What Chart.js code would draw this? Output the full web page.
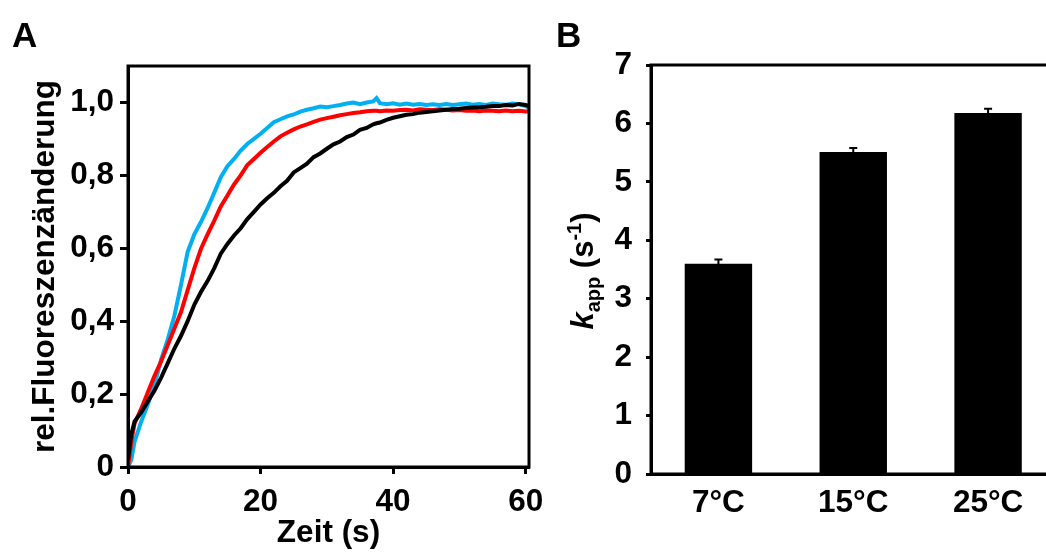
<!DOCTYPE html>
<html>
<head>
<meta charset="utf-8">
<script src="https://cdn.jsdelivr.net/npm/chart.js@4.4.1/dist/chart.umd.min.js"></script>
<style>
    body {
        margin: 0;
        width: 1046px;
        height: 553px;
        overflow: hidden;
        background: #fff;
        position: relative;
        font-family: 'Liberation Sans', Arial, sans-serif;
    }
    canvas {
        position: absolute;
        top: 0;
    }
    .panel-letter {
        position: absolute;
        top: 17px;
        font-size: 35px;
        font-weight: bold;
        line-height: 1;
        color: #000;
    }
    #rateTitle {
        position: absolute;
        left: 582px;
        top: 271px;
        transform: translate(-50%, -50%) rotate(-90deg);
        white-space: nowrap;
        font-size: 31px;
        font-weight: bold;
        line-height: 1;
        color: #000;
    }
    #rateTitle sub, #rateTitle sup {
        font-size: 20px;
        line-height: 0;
    }
</style>
</head>
<body>
<canvas id="fluorChart" width="559" height="553" style="left:0"></canvas>
<canvas id="rateChart" width="530" height="553" style="left:540px"></canvas>
<div class="panel-letter" style="left:12px">A</div>
<div class="panel-letter" style="left:556px">B</div>
<div id="rateTitle"><i>k</i><sub>app</sub> (s<sup>-1</sup>)</div>

<script>
// Panel A: fluorescence traces
const timeSec = [0, 0.5, 1, 2, 3, 4, 5, 6, 7, 8, 9, 10, 11, 12, 13, 14, 15, 16, 17, 18, 19, 20,
    21, 22, 23, 24, 25, 26, 27, 28, 29, 30, 31, 32, 33, 34, 35, 36, 37, 37.5, 38, 39, 40,
    41, 42, 43, 44, 45, 46, 47, 48, 49, 50, 51, 52, 53, 54, 55, 56, 57, 58, 59, 60, 60.5];

const fluor7C = [0.02, 0.09, 0.125, 0.15, 0.18, 0.21, 0.245, 0.285, 0.325, 0.36, 0.40, 0.445,
    0.48, 0.51, 0.545, 0.585, 0.612, 0.635, 0.655, 0.68, 0.70, 0.72, 0.737, 0.752, 0.77, 0.785,
    0.808, 0.82, 0.832, 0.85, 0.86, 0.873, 0.885, 0.893, 0.905, 0.912, 0.925, 0.93, 0.94, 0.943,
    0.945, 0.952, 0.958, 0.962, 0.966, 0.968, 0.972, 0.974, 0.976, 0.978, 0.98, 0.982, 0.983,
    0.985, 0.986, 0.987, 0.988, 0.99, 0.99, 0.993, 0.992, 0.996, 0.993, 0.99];

const fluor15C = [0.0, 0.07, 0.12, 0.16, 0.205, 0.25, 0.29, 0.335, 0.38, 0.425, 0.485, 0.545,
    0.598, 0.638, 0.675, 0.715, 0.745, 0.775, 0.80, 0.828, 0.845, 0.862, 0.878, 0.893, 0.907,
    0.917, 0.926, 0.934, 0.94, 0.947, 0.953, 0.957, 0.961, 0.965, 0.968, 0.971, 0.973, 0.976,
    0.977, 0.977, 0.976, 0.978, 0.977, 0.979, 0.98, 0.978, 0.981, 0.98, 0.979, 0.981, 0.98,
    0.978, 0.979, 0.977, 0.978, 0.976, 0.978, 0.977, 0.976, 0.978, 0.976, 0.977, 0.975, 0.976];

const fluor25C = [0.0, 0.02, 0.07, 0.125, 0.172, 0.225, 0.295, 0.35, 0.415, 0.50, 0.59, 0.638,
    0.672, 0.71, 0.752, 0.795, 0.825, 0.845, 0.868, 0.886, 0.90, 0.914, 0.93, 0.946, 0.954,
    0.962, 0.967, 0.975, 0.98, 0.984, 0.989, 0.987, 0.99, 0.993, 0.997, 1.0, 0.995, 1.0, 1.003,
    1.012, 0.998, 0.995, 0.998, 0.994, 0.997, 0.994, 0.996, 0.993, 0.995, 0.993, 0.996, 0.993,
    0.995, 0.997, 0.994, 0.996, 0.993, 0.997, 0.995, 0.994, 0.997, 0.995, 0.99, 0.986];

const timeTicks = [0, 20, 40, 60];
const fluorTicks = [0, 0.2, 0.4, 0.6, 0.8, 1.0];
const fluorTickLabels = ['0', '0,2', '0,4', '0,6', '0,8', '1,0'];

// Panel B: apparent rate constants
const tempLabels = ['7°C', '15°C', '25°C'];
const rateValues = [3.60, 5.51, 6.18];
const rateErrors = [0.07, 0.07, 0.07];
const rateTicks = [0, 1, 2, 3, 4, 5, 6, 7];

const FONT = 'Liberation Sans';
const boldFont = { family: FONT, size: 31.5, weight: 'bold' };

// Draw a closed frame around the plot area
const frameBox = {
    id: 'frameBox',
    afterDraw(chart) {
        const { ctx, chartArea } = chart;
        ctx.save();
        ctx.strokeStyle = '#000';
        ctx.lineWidth = 3;
        ctx.strokeRect(chartArea.left, chartArea.top,
            chartArea.right - chartArea.left, chartArea.bottom - chartArea.top);
        ctx.restore();
    }
};

// Error bars for the bar chart
const errorBars = {
    id: 'errorBars',
    afterDatasetsDraw(chart) {
        const { ctx } = chart;
        const yScale = chart.scales.y;
        const bars = chart.getDatasetMeta(0).data;
        ctx.save();
        ctx.strokeStyle = '#000';
        ctx.lineWidth = 2;
        bars.forEach((bar, i) => {
            const top = yScale.getPixelForValue(rateValues[i] + rateErrors[i]);
            const bottom = yScale.getPixelForValue(rateValues[i] - rateErrors[i]);
            ctx.beginPath();
            ctx.moveTo(bar.x, bottom);
            ctx.lineTo(bar.x, top);
            ctx.moveTo(bar.x - 4, top);
            ctx.lineTo(bar.x + 4, top);
            ctx.stroke();
        });
        ctx.restore();
    }
};

function toPoints(values) {
    return values.map((v, i) => ({ x: timeSec[i], y: v }));
}

function traceDataset(values, color) {
    return {
        data: toPoints(values),
        borderColor: color,
        borderWidth: 4,
        pointRadius: 0,
        tension: 0,
        fill: false
    };
}

// Fluorescence line chart
const fluorChart = new Chart(document.getElementById('fluorChart'), {
    type: 'line',
    data: {
        datasets: [
            traceDataset(fluor7C, '#000000'),
            traceDataset(fluor15C, '#ff0000'),
            traceDataset(fluor25C, '#00b0f0')
        ]
    },
    options: {
        responsive: false,
        animation: false,
        devicePixelRatio: 1,
        layout: { padding: { top: 66, right: 30, bottom: 0, left: 0 } },
        plugins: { legend: { display: false }, tooltip: { enabled: false } },
        scales: {
            x: {
                type: 'linear',
                min: 0,
                max: 60.5,
                afterBuildTicks: s => { s.ticks = timeTicks.map(v => ({ value: v })); },
                afterFit: s => { s.height = 86; },
                grid: { drawOnChartArea: false, tickLength: 7, tickWidth: 3, tickColor: '#000' },
                border: { color: '#000', width: 3 },
                ticks: { padding: 9, color: '#000', font: boldFont, maxRotation: 0, autoSkip: false },
                title: { display: true, text: 'Zeit (s)', color: '#000', font: boldFont,
                    padding: { top: 0, bottom: 1 } }
            },
            y: {
                min: 0,
                max: 1.1,
                afterBuildTicks: s => { s.ticks = fluorTicks.map(v => ({ value: v })); },
                afterFit: s => { s.width = 128; },
                grid: { drawOnChartArea: false, tickLength: 8, tickWidth: 3, tickColor: '#000' },
                border: { color: '#000', width: 3 },
                ticks: {
                    padding: 6,
                    color: '#000',
                    font: boldFont,
                    autoSkip: false,
                    callback: (value, index) => fluorTickLabels[index]
                },
                title: { display: true, text: 'rel.Fluoreszenzänderung', color: '#000', font: boldFont,
                    padding: { top: 26, bottom: 0 } }
            }
        }
    },
    plugins: [frameBox]
});

// Rate constant bar chart
const rateChart = new Chart(document.getElementById('rateChart'), {
    type: 'bar',
    data: {
        labels: tempLabels,
        datasets: [{
            data: rateValues,
            backgroundColor: '#000',
            barPercentage: 0.5,
            categoryPercentage: 1
        }]
    },
    options: {
        responsive: false,
        animation: false,
        devicePixelRatio: 1,
        layout: { padding: { top: 65, right: 14.5, bottom: 0, left: 0 } },
        plugins: { legend: { display: false }, tooltip: { enabled: false } },
        scales: {
            x: {
                afterFit: s => { s.height = 79; },
                grid: { drawOnChartArea: false, drawTicks: false },
                border: { color: '#000', width: 3 },
                ticks: { padding: 10, color: '#000', font: boldFont, maxRotation: 0 }
            },
            y: {
                min: 0,
                max: 7,
                afterBuildTicks: s => { s.ticks = rateTicks.map(v => ({ value: v })); },
                afterFit: s => { s.width = 111; },
                grid: { drawOnChartArea: false, tickLength: 5, tickWidth: 3, tickColor: '#000' },
                border: { color: '#000', width: 3 },
                ticks: { padding: 14, color: '#000', font: boldFont, autoSkip: false }
            }
        }
    },
    plugins: [errorBars, frameBox]
});
</script>
</body>
</html>
